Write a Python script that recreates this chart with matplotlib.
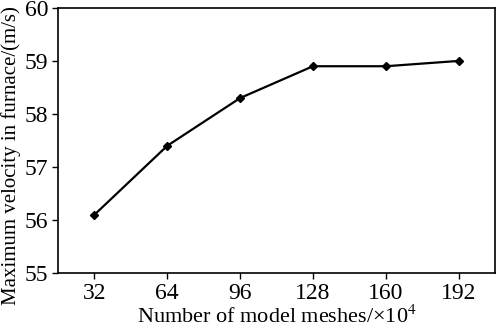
import matplotlib
matplotlib.use('Agg')
import matplotlib.pyplot as plt

# 网格数量与炉内最大速度
meshes = ['32', '64', '96', '128', '160', '192']
velocity = [56.1, 57.4, 58.3, 58.9, 58.9, 59.0]

plt.rcParams['font.family'] = ['Liberation Serif', 'DejaVu Serif']
plt.rcParams['mathtext.fontset'] = 'stix'

fig = plt.figure(figsize=(4.98, 3.29), dpi=100)
ax = fig.add_axes([0.1165, 0.170, 0.8775, 0.806])

x = list(range(len(meshes)))
ax.plot(x, velocity, color='black', linewidth=1.6, marker='D', markersize=4.5)

ax.set_xlim(-0.5, len(meshes) - 0.5)
ax.set_ylim(55, 60)
ax.set_xticks(x)
ax.set_xticklabels(meshes)
ax.set_yticks([55, 56, 57, 58, 59, 60])
ax.tick_params(labelsize=17, direction='out', length=4, width=1, pad=3)

ax.set_xlabel('Number of model meshes/×10$^4$', fontsize=16, labelpad=1)
ax.set_ylabel('Maximum velocity in furnace/(m/s)', fontsize=15)
ax.yaxis.set_label_coords(-0.085, 0.445)
for s in ax.spines.values():
    s.set_linewidth(1.2)

fig.savefig('out.png', dpi=100)
